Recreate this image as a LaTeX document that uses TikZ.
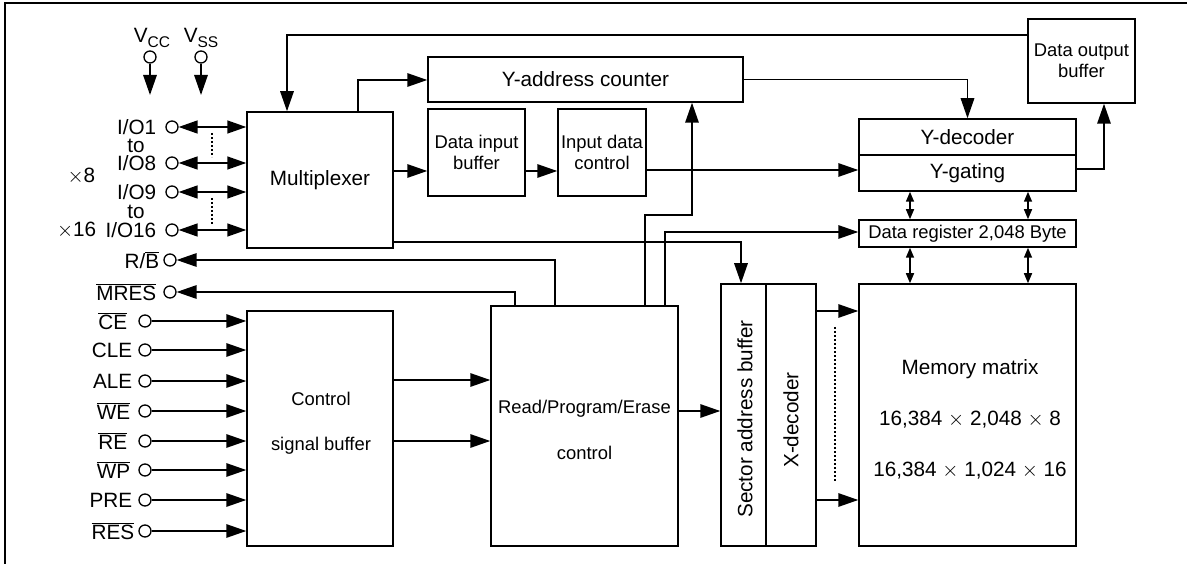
\documentclass[tikz,border=0pt]{standalone}
\usepackage{fontspec}
\setmainfont{Liberation Sans}
\usetikzlibrary{arrows.meta}
\newcommand{\ovl}[1]{$\overline{\mbox{#1}}$}
\begin{document}
\begin{tikzpicture}[x=1pt,y=-1pt, line width=1.5pt,
 box/.style={draw, inner sep=0pt, align=center, font=\fontsize{18.4}{21}\selectfont},
 bigbox/.style={draw, inner sep=0pt, align=center, font=\fontsize{20.7}{25}\selectfont},
 txt/.style={inner sep=0pt, align=center, font=\fontsize{18.4}{21}\selectfont},
 bigtxt/.style={inner sep=0pt, align=center, font=\fontsize{20.7}{25}\selectfont},
 pinc/.style={draw, circle, minimum size=12pt, inner sep=0pt, line width=1.3pt},
 lbl/.style={inner sep=0pt, anchor=east, font=\fontsize{20.7}{25}\selectfont},
 arr/.style={-{Triangle[length=20pt,width=13.5pt]}},
 darr/.style={{Triangle[length=19pt,width=13pt]}-{Triangle[length=19pt,width=13pt]}},
 sdarr/.style={{Triangle[length=10pt,width=8pt]}-{Triangle[length=10pt,width=8pt]}},
 dots/.style={line width=1.6pt, dash pattern=on 1.6pt off 2.4pt}
]
\useasboundingbox (0,0) rectangle (1187,564);
% frame
\draw[line width=2.5pt] (5,564) -- (5,3) -- (1187,3);

% boxes
\node[bigbox, minimum width=146pt, minimum height=136pt] (mux) at (320,180) {Multiplexer};
\node[bigbox, minimum width=315pt, minimum height=45pt] (yac) at (585.5,79.5) {Y-address counter};
\node[box, minimum width=97pt, minimum height=87pt] (dib) at (476.5,152.5) {Data input\\buffer};
\node[box, minimum width=88pt, minimum height=87pt] (idc) at (602,152.5) {Input data\\control};
\node[box, minimum width=107pt, minimum height=84pt] (dob) at (1081.5,61) {Data output\\buffer};
\node[bigbox, minimum width=217pt, minimum height=36pt] (ydec) at (967.5,137) {Y-decoder};
\node[bigbox, minimum width=217pt, minimum height=36pt] (ygat) at (967.5,173) {Y-gating};
\node[box, minimum width=217pt, minimum height=27pt] (dreg) at (967.5,233.5) {Data register 2,048 Byte};
\node[draw, minimum width=217pt, minimum height=262pt] (mm) at (967.5,415) {};
\node[bigtxt, font=\fontsize{20.7}{51}\selectfont] (mmtxt) at (970,419) {Memory matrix\\16,384 $\times$ 2,048 $\times$ 8\\16,384 $\times$ 1,024 $\times$ 16};
\node[draw, minimum width=45pt, minimum height=262pt] (sab) at (743.5,415) {};
\node[bigtxt, rotate=90] (sabtxt) at (745,419) {Sector address buffer};
\node[draw, minimum width=50pt, minimum height=262pt] (xdec) at (791,415) {};
\node[bigtxt, rotate=90] (xdectxt) at (791,420) {X-decoder};
\node[draw, minimum width=187pt, minimum height=240pt] (rpe) at (584.5,426) {};
\node[txt, font=\fontsize{18.4}{46}\selectfont] (rpetxt) at (584.5,430) {Read/Program/Erase\\control};
\node[draw, minimum width=146pt, minimum height=235pt] (csb) at (320,428.5) {};
\node[txt, font=\fontsize{18.4}{45}\selectfont] (csbtxt) at (321,423.5) {Control\\signal buffer};

% power pins
\node[pinc] (vcc) at (150,57) {};
\node[pinc] (vss) at (201,57) {};
\node[bigtxt] (vcclbl) at (152,38) {V\raisebox{-5pt}{\fontsize{15.5}{15}\selectfont CC}};
\node[bigtxt] (vsslbl) at (201,38) {V\raisebox{-5pt}{\fontsize{15.5}{15}\selectfont SS}};
\coordinate (vccend) at (150,95);
\coordinate (vssend) at (201,95);
\draw[arr] (vcc) -- (vccend);
\draw[arr] (vss) -- (vssend);

% I/O pins
\node[pinc] (io1) at (172,127) {};
\node[pinc] (io8) at (172,163) {};
\node[pinc] (io9) at (172,192) {};
\node[pinc] (io16) at (172,230) {};
\node[lbl] (io1l) at (157,127) {I/O1};
\node[lbl] (io8l) at (157,163) {I/O8};
\node[lbl] (io9l) at (157,192) {I/O9};
\node[lbl] (io16l) at (157,230) {I/O16};
\node[bigtxt] (to1) at (136,146) {to};
\node[bigtxt] (to2) at (136,212) {to};
\node[lbl] (x8) at (96,176) {$\times$8};
\node[lbl] (x16) at (97,230) {$\times$16};
\foreach \p in {io1,io8,io9,io16} \draw[darr] (\p) -- (\p -| mux.west);
\draw[dots] (212,133) -- (212,157);
\draw[dots] (212,198) -- (212,224);

% R/B, MRES
\node[pinc] (rb) at (170,260) {};
\node[pinc] (mres) at (170,292) {};
\node[lbl] (rbl) at (160,260) {R/\ovl{B}};
\node[lbl] (mresl) at (157,292) {\ovl{MRES}};

% control pins
\node[pinc] (ce) at (145,321) {};
\node[pinc] (cle) at (145,350) {};
\node[pinc] (ale) at (145,381) {};
\node[pinc] (we) at (145,411) {};
\node[pinc] (re) at (145,441) {};
\node[pinc] (wp) at (145,470) {};
\node[pinc] (pre) at (145,500) {};
\node[pinc] (res) at (145,531) {};
\node[lbl] (cel) at (128,321) {\ovl{CE}};
\node[lbl] (clel) at (133,350) {CLE};
\node[lbl] (alel) at (133,381) {ALE};
\node[lbl] (wel) at (131,411) {\ovl{WE}};
\node[lbl] (rel) at (128,441) {\ovl{RE}};
\node[lbl] (wpl) at (131,470) {\ovl{WP}};
\node[lbl] (prel) at (133,500) {PRE};
\node[lbl] (resl) at (135,531) {\ovl{RES}};
\foreach \p in {ce,cle,ale,we,re,wp,pre,res} \draw[arr] (\p) -- (\p -| csb.west);

% connectors
\coordinate (t1) at (287,35);
\draw[arr] (dob.north west |- t1) -- (t1) -- (t1 |- mux.north);
\coordinate (m1) at (358,80);
\draw[arr] (m1 |- mux.north) -- (m1) -- (m1 -| yac.west);
\coordinate (m2) at (0,171);
\draw[arr] (mux.east |- m2) -- (dib.west |- m2);
\draw[arr] (dib.east |- m2) -- (idc.west |- m2);
\coordinate (m3) at (0,170);
\draw[arr] (idc.east |- m3) -- (ygat.west |- m3);
\draw[arr] (yac.east) -| (ydec.north);
\coordinate (g1) at (1104,169);
\draw[arr] (ygat.east |- g1) -- (g1) -- (g1 |- dob.south);
\coordinate (c1) at (910,0);
\coordinate (c2) at (1028,0);
\draw[sdarr] (c1 |- ygat.south) -- (c1 |- dreg.north);
\draw[sdarr] (c2 |- ygat.south) -- (c2 |- dreg.north);
\draw[sdarr] (c1 |- dreg.south) -- (c1 |- mm.north);
\draw[sdarr] (c2 |- dreg.south) -- (c2 |- mm.north);
\coordinate (b1) at (741,242);
\draw[arr] (mux.east |- b1) -- (b1) -- (b1 |- sab.north);
\coordinate (r1) at (645,215);
\coordinate (r2) at (692,215);
\draw[arr] (r1 |- rpe.north) -- (r1) -- (r2) -- (r2 |- yac.south);
\coordinate (r3) at (665,232);
\draw[arr] (r3 |- rpe.north) -- (r3) -- (r3 -| dreg.west);
\coordinate (r4) at (555,260);
\draw[arr] (r4 |- rpe.north) -- (r4) -- (rb);
\coordinate (r5) at (515,292);
\draw[arr] (r5 |- rpe.north) -- (r5) -- (mres);
\coordinate (s1) at (0,380);
\coordinate (s2) at (0,441);
\draw[arr] (csb.east |- s1) -- (rpe.west |- s1);
\draw[arr] (csb.east |- s2) -- (rpe.west |- s2);
\coordinate (s3) at (0,411);
\draw[arr] (rpe.east |- s3) -- (sab.west |- s3);
\coordinate (x1) at (0,311);
\coordinate (x2) at (0,500);
\draw[arr] (xdec.east |- x1) -- (mm.west |- x1);
\draw[arr] (xdec.east |- x2) -- (mm.west |- x2);
\draw[dots] (835,327) -- (835,482);
\end{tikzpicture}
\end{document}
